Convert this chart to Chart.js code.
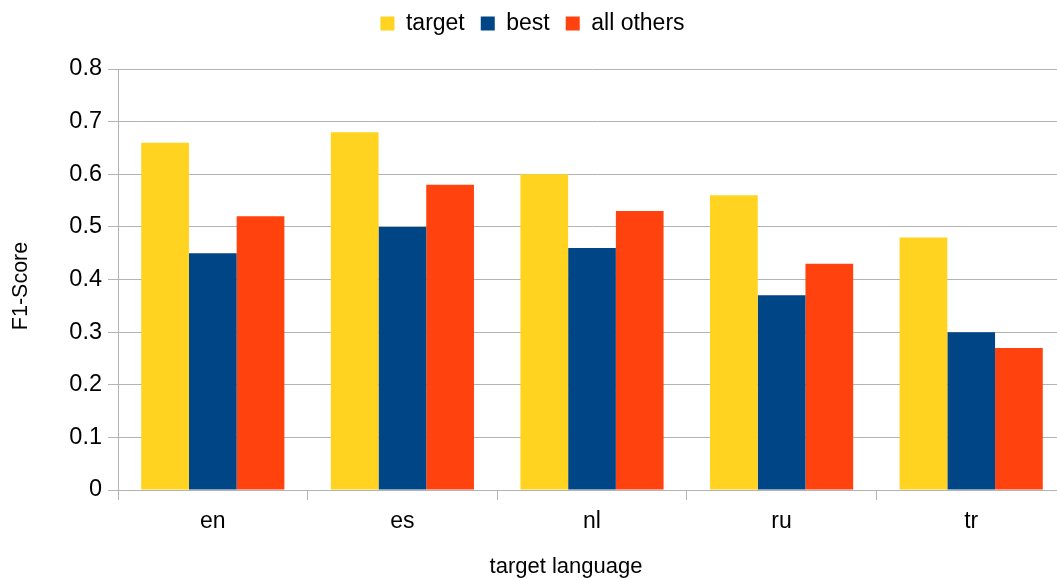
<!DOCTYPE html>
<html lang="en">

<head>
  <meta charset="UTF-8">
  <title>F1-Score by target language</title>
  <style>
    html, body { margin: 0; padding: 0; background: #fff; overflow: hidden; }
    .chartBox { width: 1066px; height: 578px; }
  </style>
</head>

<body>
  <script src="https://cdn.jsdelivr.net/npm/chart.js"></script>

  <div class="chartBox">
    <canvas id="barChart"></canvas>
  </div>

  <script>
    // idiomas y puntuaciones F1 por sistema
    const languages = ['en', 'es', 'nl', 'ru', 'tr'];
    const targetScores = [0.66, 0.68, 0.60, 0.56, 0.48];
    const bestScores = [0.45, 0.50, 0.46, 0.37, 0.30];
    const othersScores = [0.52, 0.58, 0.53, 0.43, 0.27];
    const yTicks = [0, 0.1, 0.2, 0.3, 0.4, 0.5, 0.6, 0.7, 0.8];

    const font = 'Liberation Sans';
    const gridColor = '#b3b3b3';

    // espacio extra debajo de la leyenda y leyenda centrada en la parte visible
    const legendGap = {
      id: 'legendGap',
      beforeInit(chart) {
        const fit = chart.legend.fit;
        chart.legend.fit = function () {
          fit.call(this);
          this.height += 20;
        };
      },
      afterLayout(chart) {
        chart.legend.right -= 1;
        chart.legend.top -= 4;
        chart.legend.bottom -= 4;
      }
    };

    // títulos de los ejes, dibujados a mano para poder ubicarlos
    const axisTitles = {
      id: 'axisTitles',
      afterDraw(chart) {
        const c = chart.ctx;
        c.save();
        c.fillStyle = '#000';
        c.textAlign = 'center';
        c.textBaseline = 'middle';
        c.font = '22px "' + font + '"';
        c.fillText('target language', 566, 567);
        c.font = '21.5px "' + font + '"';
        c.translate(21, 286);
        c.rotate(-Math.PI / 2);
        c.fillText('F1-Score', 0, 0);
        c.restore();
      }
    };

    const ctx = document.getElementById('barChart').getContext('2d');
    const barChart = new Chart(ctx, {
      type: 'bar',
      data: {
        labels: languages,
        datasets: [
          { label: 'target', data: targetScores, backgroundColor: '#ffd320' },
          { label: 'best', data: bestScores, backgroundColor: '#004586' },
          { label: 'all others', data: othersScores, backgroundColor: '#ff420e' }
        ]
      },
      plugins: [legendGap, axisTitles],
      options: {
        responsive: true,
        maintainAspectRatio: false,
        animation: false,
        layout: { padding: 0 },
        datasets: {
          bar: { categoryPercentage: 0.755, barPercentage: 1 }
        },
        plugins: {
          legend: {
            position: 'top',
            labels: {
              boxWidth: 14,
              boxHeight: 14,
              color: '#000',
              padding: 16,
              font: { family: font, size: 23 }
            }
          },
          tooltip: { enabled: false }
        },
        scales: {
          x: {
            grid: {
              offset: true,
              drawOnChartArea: false,
              color: gridColor,
              tickLength: 10
            },
            border: { color: gridColor },
            ticks: { color: '#000', padding: 8, font: { family: font, size: 23 } },
            afterFit: (scale) => { scale.height = 88; }
          },
          y: {
            min: 0,
            max: 0.8,
            afterBuildTicks: (scale) => { scale.ticks = yTicks.map(v => ({ value: v })); },
            grid: { color: gridColor, tickLength: 10 },
            border: { color: gridColor },
            ticks: {
              color: '#000',
              padding: 6,
              font: { family: font, size: 23.5 },
              callback: (v) => String(v)
            },
            afterFit: (scale) => { scale.width = 118; }
          }
        }
      }
    });
  </script>

</body>

</html>
